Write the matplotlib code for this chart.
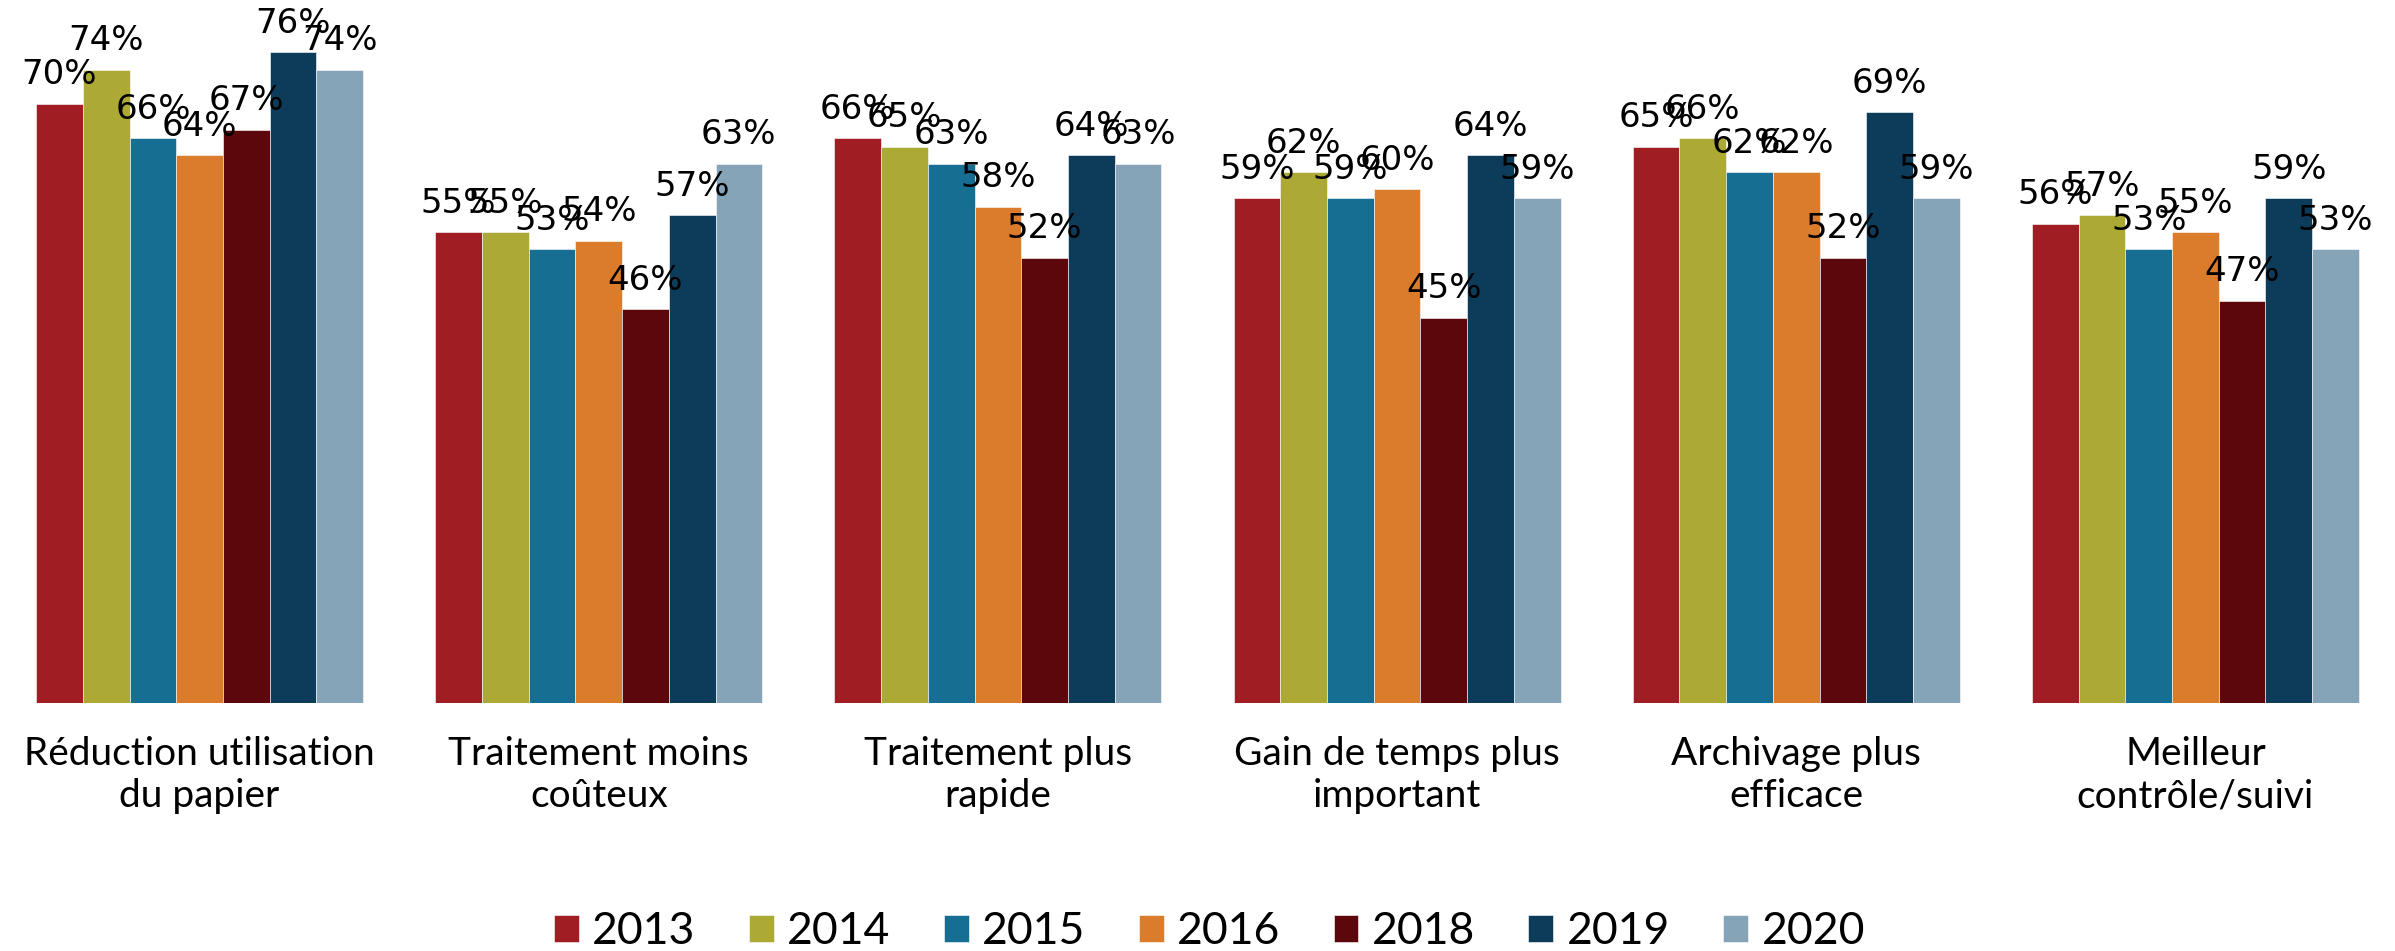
import matplotlib
matplotlib.use("Agg")
import matplotlib.pyplot as plt
import numpy as np

categories = [
    "Réduction utilisation\ndu papier",
    "Traitement moins\ncoûteux",
    "Traitement plus\nrapide",
    "Gain de temps plus\nimportant",
    "Archivage plus\nefficace",
    "Meilleur\ncontrôle/suivi",
]
years = ["2013", "2014", "2015", "2016", "2018", "2019", "2020"]

# share of respondents (%) per benefit, one list per year
v2013 = [70, 55, 66, 59, 65, 56]
v2014 = [74, 55, 65, 62, 66, 57]
v2015 = [66, 53, 63, 59, 62, 53]
v2016 = [64, 54, 58, 60, 62, 55]
v2018 = [67, 46, 52, 45, 52, 47]
v2019 = [76, 57, 64, 64, 69, 59]
v2020 = [74, 63, 63, 59, 59, 53]
series = [v2013, v2014, v2015, v2016, v2018, v2019, v2020]

colors = ["#A11D24", "#ACAA34", "#176E93", "#DB7B2C", "#5C070C", "#0D3C5A", "#85A4B8"]

fig = plt.figure(figsize=(23.95, 9.51), dpi=100)
ax = fig.add_axes([0, 0.2608, 1, 0.72])

x = np.arange(len(categories))
width = 0.117
for i, (vals, yr, col) in enumerate(zip(series, years, colors)):
    pos = x + (i - 3) * width
    bars = ax.bar(pos, vals, width, color=col, label=yr, edgecolor="white", linewidth=0.4)
    for b, v in zip(bars, vals):
        ax.annotate(f"{v}%", (b.get_x() + b.get_width() / 2, v),
                    xytext=(0, 14), textcoords="offset points",
                    ha="center", va="baseline", fontsize=24.5,
                    family="DejaVu Sans", color="black")

ax.set_xlim(-0.5, 5.5)
ax.set_ylim(0, 80)
ax.set_yticks([])
ax.set_xticks(x)
ax.set_xticklabels(categories, fontsize=28, family="Lato", linespacing=1.2)
ax.tick_params(axis="x", length=0, pad=24)
for s in ax.spines.values():
    s.set_visible(False)

fig.legend(loc="center", bbox_to_anchor=(0.505, 0.02), ncol=7, frameon=False,
           prop={"family": "Lato", "size": 32}, handlelength=0.56, handleheight=0.56,
           handletextpad=0.3, columnspacing=1.2)

fig.savefig("out.png", dpi=100)
